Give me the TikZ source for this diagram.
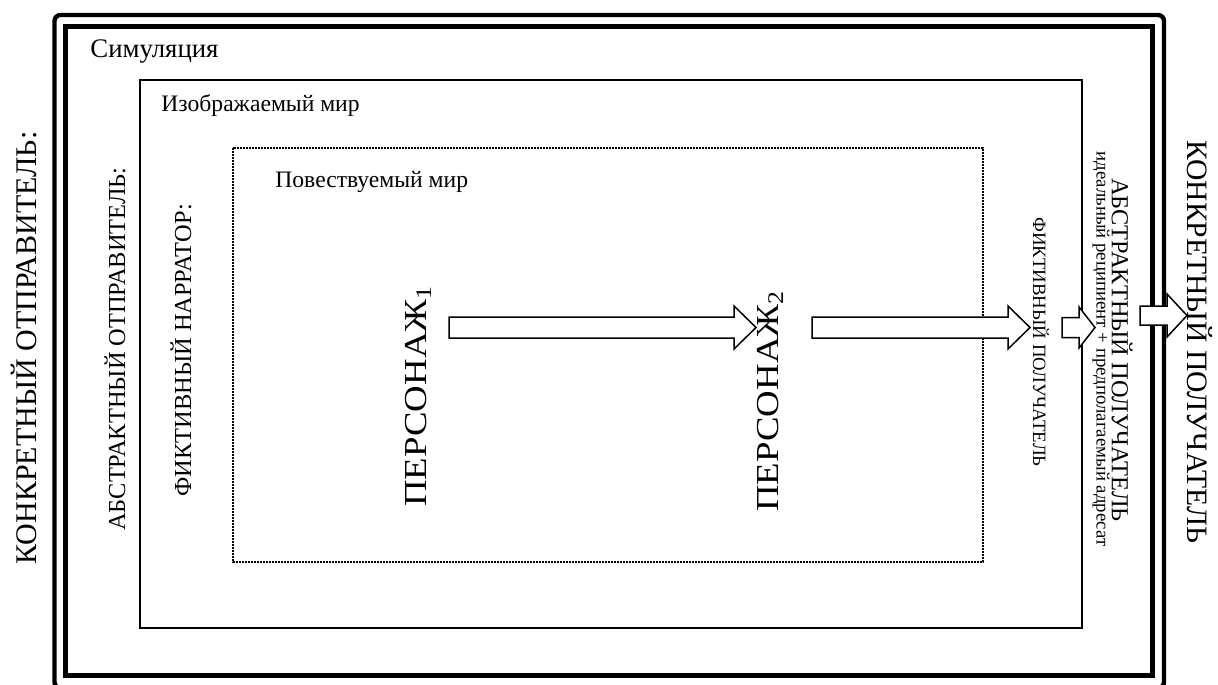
\documentclass[tikz,border=0pt]{standalone}
\usepackage{fontspec}
\usepackage{graphicx}
\setmainfont{Liberation Serif}
\begin{document}
\begin{tikzpicture}[x=0.5pt,y=-0.5pt,
  titlelbl/.style={inner sep=0pt, font=\fontsize{11.8}{14}\selectfont},
  biglbl/.style={inner sep=0pt, font=\fontsize{15}{17}\selectfont},
  midlbl/.style={inner sep=0pt, font=\fontsize{12.2}{14}\selectfont},
  smalllbl/.style={inner sep=0pt, font=\fontsize{9.4}{11}\selectfont},
  charlbl/.style={inner sep=0pt, font=\fontsize{16}{18}\selectfont},
  blockarrow/.style={draw=black, line width=0.75pt, fill=white, line join=miter},
  outerframe/.style={draw=black, line width=2.2pt, rounded corners=3pt},
  innerframe/.style={draw=black, line width=2.6pt},
  worldframe/.style={draw=black, line width=0.8pt},
  narrframe/.style={draw=black, line width=1.1pt, dash pattern=on 0.8pt off 0.7pt}]
\useasboundingbox (0,0) rectangle (1218,684);
\fill[white] (0,0) rectangle (1218,684);

% nested frames
\draw[outerframe] (54.5,688) -- (54.5,15) -- (1164,15) -- (1164,688) -- cycle;
\draw[innerframe] (65.5,26.5) rectangle (1152.5,675.5);
\draw[worldframe] (140,80) rectangle (1082,628);
\draw[narrframe] (233,148) rectangle (983,562);

% frame titles
\node[titlelbl, anchor=base west, font=\fontsize{13.4}{15}\selectfont] (sim) at (90,58) {Симуляция};
\node[titlelbl, anchor=base west] (izob) at (161,112) {Изображаемый мир};
\node[titlelbl, anchor=base west] (pov) at (275,187) {Повествуемый мир};

% senders (left side)
\node[biglbl, rotate=90] (ks) at (24,348) {КОНКРЕТНЫЙ ОТПРАВИТЕЛЬ:};
\node[midlbl, rotate=90] (as) at (115,349) {АБСТРАКТНЫЙ ОТПРАВИТЕЛЬ:};
\node[midlbl, rotate=90] (fn) at (181,350) {ФИКТИВНЫЙ НАРРАТОР:};

% characters
\node[charlbl, rotate=90] (p1) at (418,396) {\scalebox{1.15}[1]{ПЕРСОНАЖ\textsubscript{1}}};
\node[charlbl, rotate=90] (p2) at (770,401) {\scalebox{1.15}[1]{ПЕРСОНАЖ\textsubscript{2}}};

% receivers (right side)
\node[smalllbl, rotate=-90] (fp) at (1041,342) {ФИКТИВНЫЙ ПОЛУЧАТЕЛЬ};
\node[midlbl, rotate=-90] (ap) at (1122,350) {АБСТРАКТНЫЙ ПОЛУЧАТЕЛЬ};
\node[smalllbl, rotate=-90] (ir) at (1101,349) {идеальный реципиент + предполагаемый адресат};
\node[biglbl, rotate=-90, font=\fontsize{14.8}{17}\selectfont] (kp) at (1200,342) {КОНКРЕТНЫЙ ПОЛУЧАТЕЛЬ};

% block arrows: tail x, tip x, centre y, shaft half, head half, head length
\newcommand{\blockarr}[6]{%
  \draw[blockarrow] (#1,#3-#4) -- (#2-#6,#3-#4) -- (#2-#6,#3-#5) -- (#2,#3)
    -- (#2-#6,#3+#5) -- (#2-#6,#3+#4) -- (#1,#3+#4) -- cycle;}
\blockarr{449}{756}{327.5}{10.5}{21.5}{22}
\blockarr{812}{1030}{327.5}{10.5}{21.5}{22}
\blockarr{1062}{1095}{327.5}{10}{20.5}{16}
\blockarr{1140}{1187}{315.5}{9.5}{21.5}{20}
\end{tikzpicture}
\end{document}
